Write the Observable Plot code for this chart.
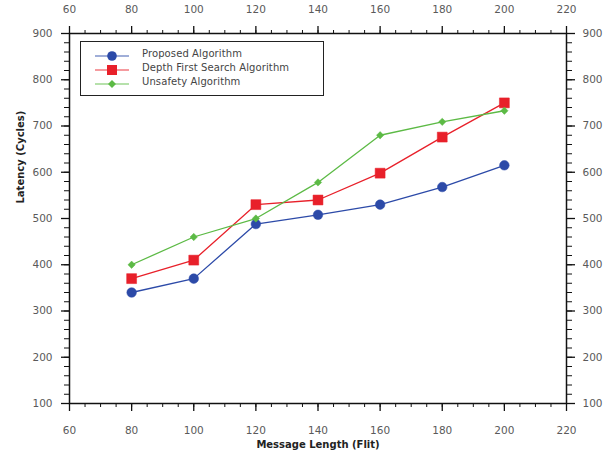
<!DOCTYPE html>
<html>
<head>
<meta charset="utf-8">
<script src="https://cdn.jsdelivr.net/npm/d3@7"></script>
<script src="https://cdn.jsdelivr.net/npm/@observablehq/plot@0.6"></script>
<style>
  html, body { margin: 0; padding: 0; background: #fff; }
  #wrap { position: relative; width: 603px; height: 461px; font-family: "DejaVu Sans", sans-serif; }
  #legend { position: absolute; left: 80px; top: 41px; width: 242px; height: 53px; border: 1.5px solid #222; background: #fff; box-sizing: content-box; }
  .item { position: absolute; left: 0; height: 14px; display: flex; align-items: center; }
  .item svg { position: absolute; left: 13px; top: 0; }
  .item span { position: absolute; left: 61px; top: -1px; font-size: 10px; color: #444; white-space: nowrap; letter-spacing: 0.1px; }
</style>
</head>
<body>
<div id="wrap"></div>
<script>
const messageLength = [80, 100, 120, 140, 160, 180, 200];
const proposed = [340, 370, 488, 508, 530, 568, 615];
const depthFirst = [370, 410, 530, 540, 598, 676, 750];
const unsafety = [400, 460, 500, 578, 680, 709, 733];
const seriesNames = ["Proposed Algorithm", "Depth First Search Algorithm", "Unsafety Algorithm"];
const seriesColors = ["#2c4aa8", "#e8202a", "#5cba45"];
const seriesSymbols = ["circle", "square", "diamond2"];
const seriesR = [4.8, 5.6, 3.3];
const xTicks = [60, 80, 100, 120, 140, 160, 180, 200, 220];
const yTicks = [100, 200, 300, 400, 500, 600, 700, 800, 900];
const xLabel = "Message Length (Flit)";
const yLabel = "Latency (Cycles)";

const values = [proposed, depthFirst, unsafety];
const rows = values.flatMap((vals, i) => vals.map((v, j) => ({x: messageLength[j], y: v, s: seriesNames[i]})));

const xMinor = d3.range(60, 221, 5);
const yMinor = d3.range(100, 901, 20);
const tickColor = "#111";
const labelFill = "#5a5a5a";

const marks = [
  Plot.frame({stroke: "#111", strokeWidth: 1.5}),
  // minor ticks
  Plot.axisX(xMinor, {anchor: "bottom", tickSize: 4, tickFormat: () => "", label: null, stroke: tickColor}),
  Plot.axisX(xMinor, {anchor: "top", tickSize: 4, tickFormat: () => "", label: null, stroke: tickColor}),
  Plot.axisY(yMinor, {anchor: "left", tickSize: 5, tickFormat: () => "", label: null, stroke: tickColor}),
  Plot.axisY(yMinor, {anchor: "right", tickSize: 5, tickFormat: () => "", label: null, stroke: tickColor}),
  // major ticks
  Plot.axisX(xTicks, {anchor: "bottom", tickSize: 8, tickFormat: () => "", label: null, stroke: tickColor, strokeWidth: 1.3}),
  Plot.axisX(xTicks, {anchor: "top", tickSize: 8, tickFormat: () => "", label: null, stroke: tickColor, strokeWidth: 1.3}),
  Plot.axisY(yTicks, {anchor: "left", tickSize: 8, tickFormat: () => "", label: null, stroke: tickColor, strokeWidth: 1.3}),
  Plot.axisY(yTicks, {anchor: "right", tickSize: 8, tickFormat: () => "", label: null, stroke: tickColor, strokeWidth: 1.3}),
  // tick labels
  Plot.axisX(xTicks, {anchor: "bottom", tickSize: 0, tickPadding: 23, label: null, fill: labelFill, fontSize: 10.5}),
  Plot.axisX(xTicks, {anchor: "top", tickSize: 0, tickPadding: 21, label: null, fill: labelFill, fontSize: 10.5}),
  Plot.axisY(yTicks, {anchor: "left", tickSize: 0, tickPadding: 17, label: null, fill: labelFill, fontSize: 10.5}),
  Plot.axisY(yTicks, {anchor: "right", tickSize: 0, tickPadding: 16, label: null, fill: labelFill, fontSize: 10.5}),
  // titles
  Plot.text([xLabel], {frameAnchor: "bottom", dy: 44, text: d => d, fontWeight: "bold", fontSize: 10, fill: "#222"}),
  Plot.text([yLabel], {frameAnchor: "left", dx: -49, dy: -15, rotate: -90, text: d => d, fontWeight: "bold", fontSize: 10, fill: "#222"}),
  // data
  Plot.line(rows, {x: "x", y: "y", z: "s", stroke: "s", strokeWidth: 1.3}),
  ...seriesNames.map((name, i) => Plot.dot(rows.filter(r => r.s === name), {x: "x", y: "y", fill: seriesColors[i], stroke: seriesColors[i], strokeWidth: 0.5, symbol: seriesSymbols[i], r: seriesR[i]}))
];

const chart = Plot.plot({
  width: 603,
  height: 461,
  marginLeft: 69,
  marginRight: 37,
  marginTop: 33,
  marginBottom: 58,
  style: {fontFamily: "DejaVu Sans, sans-serif", background: "#fff", overflow: "visible"},
  x: {domain: [60, 220], axis: null},
  y: {domain: [100, 900], axis: null},
  color: {domain: seriesNames, range: seriesColors},
  marks
});
const wrap = document.getElementById("wrap");
wrap.appendChild(chart);

// legend
const legend = document.createElement("div");
legend.id = "legend";
const symbolPaths = {
  circle: '<circle cx="18" cy="7" r="4.8"/>',
  square: '<rect x="13" y="2" width="10" height="10"/>',
  diamond2: '<path d="M18 3 L22 7 L18 11 L14 7 Z"/>'
};
seriesNames.forEach((name, i) => {
  const it = document.createElement("div");
  it.className = "item";
  it.style.top = (7 + i * 14) + "px";
  it.innerHTML = `<svg width="36" height="14"><line x1="1" x2="35" y1="7" y2="7" stroke="${seriesColors[i]}" stroke-opacity="0.6" stroke-width="1.5"/><g fill="${seriesColors[i]}">${symbolPaths[seriesSymbols[i]]}</g></svg><span>${name}</span>`;
  legend.appendChild(it);
});
wrap.appendChild(legend);
</script>
</body>
</html>
